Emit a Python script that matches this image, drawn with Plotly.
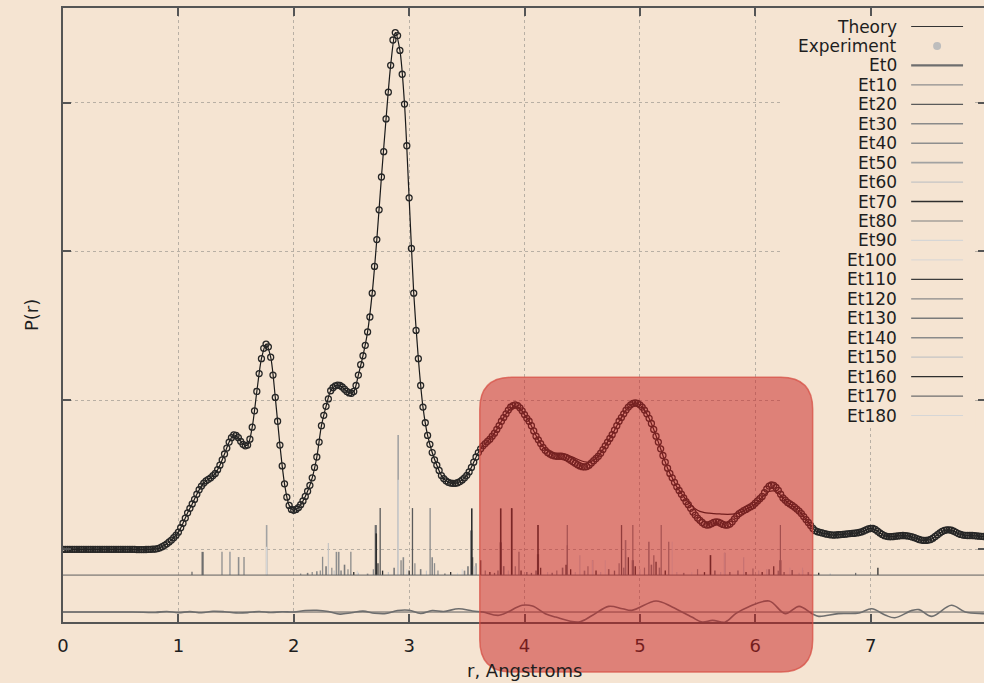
import plotly.graph_objects as go

# ---------------- data ----------------
EXP_STEP = 0.02   # r spacing of experimental points, Angstrom
EXPERIMENT = [
    0.000, 0.000, 0.000, 0.000, 0.000, 0.000, 0.000, 0.000, 0.000, 0.000,
    0.000, 0.000, 0.000, 0.000, 0.000, 0.000, 0.000, 0.000, 0.000, 0.000,
    0.000, 0.000, 0.000, 0.000, 0.000, 0.000, 0.000, 0.000, 0.000, 0.000,
    0.000, 0.000, -0.002, -0.002, -0.002, -0.002, -0.001, 0.000, 0.000, 0.001,
    0.002, 0.005, 0.010, 0.018, 0.027, 0.037, 0.050, 0.062, 0.078, 0.095,
    0.115, 0.145, 0.175, 0.210, 0.245, 0.275, 0.305, 0.335, 0.370, 0.400,
    0.425, 0.445, 0.460, 0.470, 0.480, 0.495, 0.510, 0.535, 0.565, 0.600,
    0.640, 0.680, 0.720, 0.750, 0.768, 0.765, 0.750, 0.725, 0.705, 0.695,
    0.700, 0.740, 0.820, 0.930, 1.060, 1.180, 1.280, 1.350, 1.378, 1.360,
    1.290, 1.170, 1.020, 0.860, 0.700, 0.560, 0.440, 0.350, 0.295, 0.268,
    0.262, 0.268, 0.280, 0.300, 0.325, 0.355, 0.390, 0.430, 0.480, 0.550,
    0.620, 0.720, 0.830, 0.900, 0.960, 1.010, 1.065, 1.085, 1.098, 1.103,
    1.100, 1.090, 1.075, 1.060, 1.050, 1.048, 1.060, 1.100, 1.170, 1.240,
    1.300, 1.370, 1.460, 1.560, 1.720, 1.900, 2.080, 2.280, 2.500, 2.670,
    2.890, 3.070, 3.250, 3.420, 3.470, 3.450, 3.350, 3.190, 2.990, 2.710,
    2.360, 2.020, 1.720, 1.470, 1.280, 1.100, 0.955, 0.850, 0.765, 0.705,
    0.650, 0.600, 0.565, 0.530, 0.495, 0.475, 0.460, 0.450, 0.445, 0.443,
    0.443, 0.447, 0.455, 0.466, 0.480, 0.497, 0.520, 0.550, 0.585, 0.620,
    0.650, 0.675, 0.695, 0.710, 0.725, 0.740, 0.760, 0.780, 0.805, 0.830,
    0.860, 0.885, 0.910, 0.935, 0.955, 0.965, 0.970, 0.965, 0.950, 0.930,
    0.905, 0.880, 0.860, 0.830, 0.795, 0.760, 0.735, 0.710, 0.685, 0.665,
    0.650, 0.640, 0.632, 0.627, 0.625, 0.625, 0.625, 0.622, 0.617, 0.608,
    0.598, 0.588, 0.578, 0.568, 0.560, 0.555, 0.553, 0.556, 0.565, 0.580,
    0.595, 0.610, 0.625, 0.645, 0.670, 0.695, 0.720, 0.745, 0.770, 0.800,
    0.830, 0.860, 0.885, 0.910, 0.935, 0.955, 0.970, 0.980, 0.983, 0.980,
    0.970, 0.955, 0.935, 0.910, 0.880, 0.845, 0.805, 0.760, 0.720, 0.675,
    0.630, 0.585, 0.545, 0.510, 0.480, 0.450, 0.420, 0.395, 0.370, 0.345,
    0.320, 0.300, 0.275, 0.250, 0.230, 0.210, 0.195, 0.180, 0.168, 0.163,
    0.165, 0.172, 0.180, 0.185, 0.183, 0.175, 0.167, 0.163, 0.163, 0.170,
    0.185, 0.205, 0.225, 0.240, 0.250, 0.260, 0.268, 0.277, 0.285, 0.295,
    0.310, 0.325, 0.340, 0.355, 0.380, 0.405, 0.425, 0.432, 0.430, 0.415,
    0.395, 0.370, 0.345, 0.330, 0.315, 0.305, 0.295, 0.283, 0.270, 0.257,
    0.240, 0.220, 0.200, 0.180, 0.160, 0.140, 0.125, 0.118, 0.114, 0.110,
    0.106, 0.102, 0.099, 0.097, 0.096, 0.097, 0.098, 0.099, 0.100, 0.102,
    0.104, 0.106, 0.107, 0.108, 0.110, 0.113, 0.117, 0.123, 0.130, 0.137,
    0.141, 0.140, 0.133, 0.122, 0.110, 0.100, 0.092, 0.087, 0.085, 0.085,
    0.086, 0.088, 0.090, 0.092, 0.093, 0.092, 0.090, 0.087, 0.083, 0.078,
    0.072, 0.066, 0.062, 0.060, 0.060, 0.062, 0.066, 0.075, 0.086, 0.098,
    0.110, 0.120, 0.127, 0.131, 0.131, 0.128, 0.122, 0.114, 0.106, 0.100,
    0.096, 0.094, 0.093, 0.093, 0.093, 0.092, 0.090, 0.088, 0.087, 0.086,
    0.085,
]

THEORY_STEP = 0.04
THEORY = [
    0.000, 0.000, 0.000, 0.000, 0.000, 0.000, 0.000, 0.000, 0.000, 0.000,
    0.000, 0.000, 0.000, 0.000, 0.000, 0.000, -0.002, -0.002, -0.001, 0.000,
    0.002, 0.010, 0.027, 0.050, 0.078, 0.115, 0.175, 0.245, 0.305, 0.370,
    0.425, 0.460, 0.480, 0.510, 0.565, 0.640, 0.720, 0.768, 0.750, 0.705,
    0.700, 0.820, 1.060, 1.280, 1.378, 1.290, 1.020, 0.700, 0.440, 0.295,
    0.262, 0.280, 0.325, 0.390, 0.480, 0.620, 0.830, 0.960, 1.065, 1.098,
    1.100, 1.075, 1.050, 1.060, 1.170, 1.300, 1.460, 1.720, 2.080, 2.500,
    2.890, 3.250, 3.470, 3.350, 2.990, 2.360, 1.720, 1.280, 0.955, 0.765,
    0.650, 0.565, 0.495, 0.460, 0.445, 0.443, 0.455, 0.480, 0.520, 0.585,
    0.650, 0.695, 0.725, 0.760, 0.805, 0.860, 0.910, 0.945, 0.958, 0.945,
    0.905, 0.860, 0.795, 0.735, 0.690, 0.660, 0.645, 0.640, 0.640, 0.635,
    0.625, 0.612, 0.598, 0.588, 0.585, 0.598, 0.625, 0.670, 0.720, 0.770,
    0.830, 0.885, 0.935, 0.970, 0.983, 0.970, 0.935, 0.880, 0.805, 0.720,
    0.630, 0.545, 0.480, 0.420, 0.375, 0.335, 0.300, 0.272, 0.255, 0.247,
    0.243, 0.240, 0.238, 0.236, 0.235, 0.236, 0.240, 0.252, 0.268, 0.285,
    0.305, 0.335, 0.365, 0.388, 0.392, 0.378, 0.345, 0.315, 0.295, 0.270,
    0.240, 0.200, 0.160, 0.125, 0.114, 0.106, 0.099, 0.096, 0.098, 0.100,
    0.104, 0.107, 0.110, 0.117, 0.130, 0.141, 0.133, 0.110, 0.092, 0.085,
    0.086, 0.090, 0.093, 0.090, 0.083, 0.072, 0.062, 0.060, 0.066, 0.086,
    0.110, 0.127, 0.131, 0.122, 0.106, 0.096, 0.093, 0.093, 0.090, 0.087,
    0.085,
]

# difference curve (experiment - theory), drawn about its own baseline
RES_BASE = -0.421
RES_R = [0.0, 0.6, 0.8, 0.9, 1.0, 1.1, 1.2, 1.3, 1.4, 1.5, 1.6, 1.7, 1.8, 1.9,
         2.0, 2.1, 2.2, 2.3, 2.4, 2.5, 2.6, 2.7, 2.8, 2.9, 3.0, 3.1, 3.2, 3.3,
         3.43, 3.55, 3.64, 3.78, 3.98, 4.07, 4.18, 4.27, 4.47, 4.59, 4.73, 4.85,
         4.93, 5.14, 5.28, 5.45, 5.54, 5.63, 5.74, 5.83, 5.94, 6.12, 6.26, 6.38,
         6.49, 6.55, 6.72, 6.90, 7.01, 7.13, 7.21, 7.36, 7.42, 7.53, 7.70, 7.82,
         7.97, 8.0]
RES_V = [0.0, 0.0, -0.003, 0.004, -0.004, 0.003, -0.005, 0.005, 0.002, -0.006,
         -0.004, 0.004, -0.003, 0.002, 0.0, 0.01, 0.012, 0.004, -0.014, -0.005,
         0.006, -0.008, -0.01, 0.01, 0.012, -0.01, 0.01, 0.004, 0.022, 0.007,
         0.0, -0.022, 0.045, 0.04, -0.011, -0.034, -0.067, -0.022, 0.038, 0.022,
         0.011, 0.074, 0.034, -0.034, -0.067, -0.056, -0.067, -0.011, 0.034, 0.074,
         -0.011, 0.038, -0.01, -0.029, -0.011, -0.007, 0.022, -0.022, -0.038, 0.011,
         0.016, -0.029, 0.045, 0.0, -0.011, -0.012]

# component sticks (r position, stick height above their baseline)
STICK_BASE = -0.173
ET0_R = [1.21, 2.711, 3.539, 3.794, 4.117, 4.939, 6.218]
ET0_H = [0.156, 0.336, 0.30, 0.22, 0.14, 0.10, 0.10]
ET10_R = [1.378, 2.25, 3.22, 4.59, 5.25]
ET10_H = [0.156, 0.123, 0.08, 0.10, 0.224]
ET20_R = [2.749, 3.029, 3.889, 4.841]
ET20_H = [0.45, 0.45, 0.45, 0.336]
ET30_R = [1.569, 2.495, 3.182, 4.371, 5.185]
ET30_H = [0.121, 0.156, 0.45, 0.336, 0.336]
ET40_R = [1.522, 2.37, 2.39, 4.876, 5.078]
ET40_H = [0.121, 0.156, 0.156, 0.235, 0.224]
ET50_R = [1.447, 1.765, 2.905, 5.735]
ET50_H = [0.156, 0.336, 0.94, 0.15]
ET60_R = [2.30, 4.48, 5.90, 6.10]
ET60_H = [0.215, 0.134, 0.12, 0.04]
ET70_R = [3.543, 3.794, 3.889, 5.612, 2.715, 4.117]
ET70_H = [0.448, 0.448, 0.448, 0.134, 0.28, 0.336]
ET80_R = [3.952, 5.121, 6.218, 2.93, 3.58, 4.939, 4.371]
ET80_H = [0.156, 0.134, 0.336, 0.10, 0.08, 0.336, 0.2]
ET90_R = [1.765, 2.905]
ET90_H = [0.19, 0.64]
ET100_R = [2.98, 4.70, 6.30, 5.45, 3.42]
ET100_H = [0.04, 0.10, 0.05, 0.02, 0.015]
ET110_R = [3.62, 4.14, 4.36, 4.90, 5.14, 6.16, 2.73, 3.55]
ET110_H = [0.10, 0.05, 0.07, 0.12, 0.09, 0.06, 0.08, 0.12]
ET120_R = [2.06, 2.16, 2.23, 2.33, 2.47, 2.69, 3.05, 3.25, 3.66, 3.92, 4.28, 4.55,
           4.82, 5.04, 5.50, 5.98, 6.41]
ET120_H = [0.01, 0.02, 0.03, 0.05, 0.04, 0.04, 0.08, 0.03, 0.03, 0.06, 0.03, 0.06,
           0.08, 0.05, 0.04, 0.045, 0.034]
ET130_R = [2.12, 2.28, 2.44, 2.87, 3.10, 3.51, 3.82, 4.10, 4.33, 4.73, 5.10, 5.65,
           6.12, 6.32]
ET130_H = [0.015, 0.06, 0.07, 0.05, 0.04, 0.06, 0.06, 0.03, 0.05, 0.04, 0.07, 0.03,
           0.04, 0.034]
ET140_R = [2.20, 2.41, 2.64, 2.95, 3.20, 3.48, 3.77, 4.02, 4.24, 4.52, 4.86, 5.17,
           5.38, 5.85, 6.20, 6.46]
ET140_H = [0.025, 0.03, 0.01, 0.12, 0.12, 0.03, 0.03, 0.02, 0.015, 0.03, 0.05, 0.05,
           0.015, 0.03, 0.03, 0.02]
ET150_R = [2.35, 2.56, 2.82, 3.15, 3.57, 3.86, 4.20, 4.44, 4.66, 5.00, 5.32, 5.70,
           6.03, 6.38, 6.65]
ET150_H = [0.03, 0.015, 0.02, 0.03, 0.06, 0.03, 0.02, 0.02, 0.02, 0.04, 0.02, 0.02,
           0.03, 0.015, 0.01]
ET160_R = [2.52, 2.77, 3.00, 3.36, 3.70, 3.97, 4.40, 4.62, 4.96, 5.22, 5.56, 5.92,
           6.06, 6.55, 7.063]
ET160_H = [0.02, 0.03, 0.03, 0.02, 0.02, 0.03, 0.04, 0.03, 0.06, 0.03, 0.02, 0.02,
           0.02, 0.015, 0.05]
ET170_R = [3.31, 3.74, 4.06, 4.78, 5.78, 6.25, 6.87, 1.118]
ET170_H = [0.01, 0.015, 0.015, 0.03, 0.02, 0.02, 0.015, 0.022]
ET180_R = [3.46, 4.59, 5.735, 5.28, 6.41, 2.55]
ET180_H = [0.04, 0.10, 0.15, 0.224, 0.05, 0.03]

X_TICKS = [0, 1, 2, 3, 4, 5, 6, 7, 8]
X_TICK_LABELS = ["0", "1", "2", "3", "4", "5", "6", "7", ""]
Y_GRID = [0, 1, 2, 3]
X_RANGE = [0, 8]
Y_RANGE = [-0.488, 3.635]

# ---------------- styling ----------------
BG = "#f5e4d2"
FONT = "DejaVu Sans"
W, H = 992, 683
ML, MR, MT, MB = 63, 4, 8, 61
PW, PH = W - ML - MR, H - MT - MB

ET_SERIES = [
    ("Et0", ET0_R, ET0_H, "#6e6e6e", 2.2),
    ("Et10", ET10_R, ET10_H, "#8e8e8e", 1.3),
    ("Et20", ET20_R, ET20_H, "#5a5a5a", 1.3),
    ("Et30", ET30_R, ET30_H, "#8a8a8a", 1.3),
    ("Et40", ET40_R, ET40_H, "#8e8e8e", 1.6),
    ("Et50", ET50_R, ET50_H, "#a2a2a2", 1.6),
    ("Et60", ET60_R, ET60_H, "#c4c4c4", 1.2),
    ("Et70", ET70_R, ET70_H, "#2e2e2e", 1.6),
    ("Et80", ET80_R, ET80_H, "#7e7e7e", 1.2),
    ("Et90", ET90_R, ET90_H, "#d6d6d6", 1.3),
    ("Et100", ET100_R, ET100_H, "#d6d6d6", 1.0),
    ("Et110", ET110_R, ET110_H, "#3c3c3c", 1.3),
    ("Et120", ET120_R, ET120_H, "#8a8a8a", 1.2),
    ("Et130", ET130_R, ET130_H, "#7a7a7a", 1.6),
    ("Et140", ET140_R, ET140_H, "#8a8a8a", 1.6),
    ("Et150", ET150_R, ET150_H, "#c4c4c4", 1.2),
    ("Et160", ET160_R, ET160_H, "#2e2e2e", 1.3),
    ("Et170", ET170_R, ET170_H, "#6e6e6e", 1.3),
    ("Et180", ET180_R, ET180_H, "#d6d6d6", 1.0),
]


def px_x(px):
    return (px - ML) / PW


def px_y(py):
    return (H - MB - py) / PH


def data_x(px):
    return X_RANGE[0] + (px - ML) / PW * (X_RANGE[1] - X_RANGE[0])


def data_y(py):
    return Y_RANGE[1] - (py - MT) / PH * (Y_RANGE[1] - Y_RANGE[0])


fig = go.Figure()

# component sticks
for name, rs, hs, col, wd in ET_SERIES:
    xs, ys = [], []
    for r, h in zip(rs, hs):
        xs += [r, r, None]
        ys += [STICK_BASE, STICK_BASE + h, None]
    fig.add_trace(go.Scatter(x=xs, y=ys, mode="lines", name=name,
                             line=dict(color=col, width=wd), hoverinfo="skip"))

# baselines of the stick panel and the difference curve
for b in (STICK_BASE, RES_BASE):
    fig.add_trace(go.Scatter(x=X_RANGE, y=[b, b], mode="lines", showlegend=False,
                             line=dict(color="#5e5e5e", width=1), hoverinfo="skip"))

# difference curve
fig.add_trace(go.Scatter(x=RES_R, y=[RES_BASE + v for v in RES_V], mode="lines",
                         line=dict(color="#6e6e6e", width=1.6, shape="spline"),
                         showlegend=False))

# theory
theory_r = [round(i * THEORY_STEP, 2) for i in range(len(THEORY))]
fig.add_trace(go.Scatter(x=theory_r, y=THEORY, mode="lines", name="Theory",
                         line=dict(color="#1a1a1a", width=1.2, shape="spline",
                                   smoothing=0.8)))

# experiment
exp_r = [round(i * EXP_STEP, 2) for i in range(len(EXPERIMENT))]
fig.add_trace(go.Scatter(x=exp_r, y=EXPERIMENT, mode="markers", name="Experiment",
                         marker=dict(symbol="circle-open", size=6, color="#262626",
                                     line=dict(width=1.3))))

shapes = []
annotations = []

# legend backing box (hides gridlines behind the legend)
shapes.append(dict(type="rect", xref="x", yref="y", layer="between",
                   x0=data_x(783), x1=data_x(977), y0=data_y(428), y1=data_y(14),
                   fillcolor=BG, line=dict(width=0)))

legend_rows = [("Theory", "#333333", 1.1), ("Experiment", None, 0)] + \
    [(n, c, w) for n, _, _, c, w in ET_SERIES]
ROW0, ROWSTEP = 26.5, 19.45
for i, (name, col, wd) in enumerate(legend_rows):
    yy = ROW0 + i * ROWSTEP
    annotations.append(dict(xref="paper", yref="paper", x=px_x(901), y=px_y(yy),
                            xanchor="right", yanchor="middle", showarrow=False,
                            text=name, font=dict(family=FONT, size=17, color="#1e1e1e")))
    if col is None:
        shapes.append(dict(type="circle", xref="paper", yref="paper", layer="above",
                           x0=px_x(935), x1=px_x(943), y0=px_y(yy + 4), y1=px_y(yy - 4),
                           fillcolor="#bdbdbd", line=dict(width=0)))
    else:
        shapes.append(dict(type="line", xref="paper", yref="paper", layer="above",
                           x0=px_x(913), x1=px_x(965), y0=px_y(yy), y1=px_y(yy),
                           line=dict(color=col, width=max(wd, 1.0))))

# highlighted region: translucent red rounded rectangle
L, R, T, B, rad = 480.7, 814.3, 377.3, 672.0, 32
rx, ry = rad / PW, rad / PH
l, r_, t, b = px_x(L), px_x(R), px_y(T), px_y(B)
path = (f"M {l+rx},{t} L {r_-rx},{t} Q {r_},{t} {r_},{t-ry} "
        f"L {r_},{b+ry} Q {r_},{b} {r_-rx},{b} L {l+rx},{b} "
        f"Q {l},{b} {l},{b+ry} L {l},{t-ry} Q {l},{t} {l+rx},{t} Z")
shapes.append(dict(type="path", xref="paper", yref="paper", layer="above", path=path,
                   fillcolor="rgba(200,30,30,0.5)",
                   line=dict(color="rgba(215,80,70,0.75)", width=1.5)))

# axis titles
annotations.append(dict(xref="paper", yref="paper", x=0.5, y=px_y(670),
                        xanchor="center", yanchor="middle", showarrow=False,
                        text="r, Angstroms", font=dict(family=FONT, size=18, color="#1e1e1e")))
annotations.append(dict(xref="paper", yref="paper", x=px_x(31), y=px_y(315),
                        xanchor="center", yanchor="middle", showarrow=False, textangle=-90,
                        text="P(r)", font=dict(family=FONT, size=18, color="#1e1e1e")))

axis_common = dict(showline=True, linewidth=2, linecolor="#555555", mirror="ticks",
                   ticks="inside", ticklen=8, tickwidth=2, tickcolor="#555555",
                   showgrid=True, gridcolor="#b8afa4", gridwidth=1, griddash="dot",
                   zeroline=False)

fig.update_layout(
    width=W, height=H,
    margin=dict(l=ML, r=MR, t=MT, b=MB),
    paper_bgcolor=BG, plot_bgcolor=BG,
    showlegend=False,
    font=dict(family=FONT, size=18, color="#1e1e1e"),
    xaxis=dict(range=X_RANGE, tickmode="array", tickvals=X_TICKS, ticktext=X_TICK_LABELS,
               ticklabelstandoff=6,
               tickfont=dict(family=FONT, size=18, color="#1e1e1e"), **axis_common),
    yaxis=dict(range=Y_RANGE, tickmode="array", tickvals=Y_GRID, showticklabels=False,
               **axis_common),
    shapes=shapes,
    annotations=annotations,
)

fig.write_html("out.html", config={"displayModeBar": False},
               post_script="document.body.style.margin='0';document.body.style.overflow='hidden';")
